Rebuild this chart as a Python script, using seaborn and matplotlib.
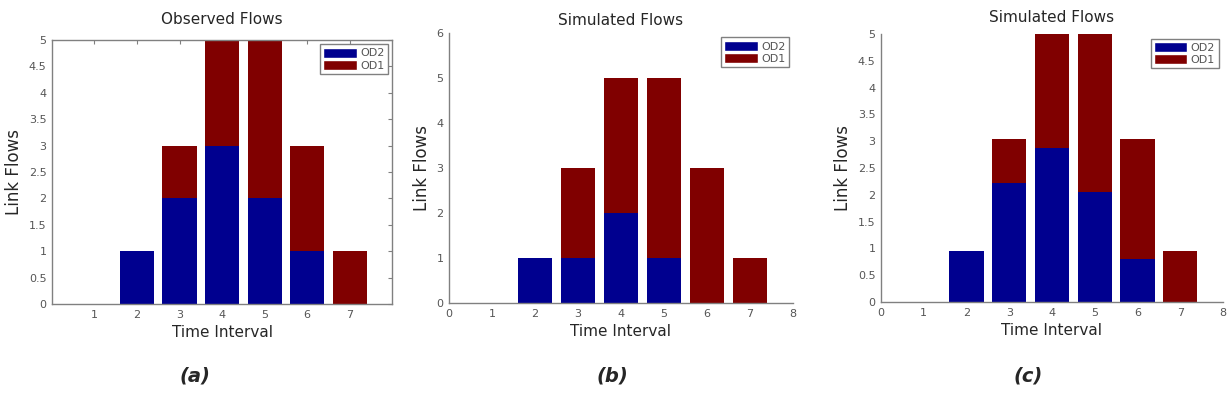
import numpy as np
import pandas as pd
import matplotlib
matplotlib.use('Agg')
import matplotlib.pyplot as plt
from matplotlib.patches import Patch
import seaborn as sns

# --- data ---
intervals = [1, 2, 3, 4, 5, 6, 7]

obs_od2 = [0, 1, 2, 3, 2, 1, 0]
obs_od1 = [0, 0, 1, 2, 3, 2, 1]

sim_od2 = [0, 1, 1, 2, 1, 0, 0]
sim_od1 = [0, 0, 2, 3, 4, 3, 1]

sim2_od2 = [0, 0.95, 2.22, 2.88, 2.05, 0.80, 0]
sim2_od1 = [0, 0, 0.83, 2.12, 2.95, 2.25, 0.95]

titles = ["Observed Flows", "Simulated Flows", "Simulated Flows"]
captions = ["(a)", "(b)", "(c)"]

BLUE = "#00008f"
RED = "#800000"
GREY = "#808080"

sns.set_style("white")
plt.rcParams['font.family'] = ['DejaVu Sans']


def stacked(ax, od2, od1):
    """堆叠柱状图：先画总量(OD1 颜色)，再画 OD2 在底部"""
    df = pd.DataFrame({"t": intervals, "od2": od2,
                       "tot": np.array(od2) + np.array(od1)})
    sns.barplot(data=df, x="t", y="tot", native_scale=True, color=RED,
                saturation=1, width=0.8, linewidth=0, ax=ax)
    sns.barplot(data=df, x="t", y="od2", native_scale=True, color=BLUE,
                saturation=1, width=0.8, linewidth=0, ax=ax)


def style_axes(ax, box):
    for s in ax.spines.values():
        s.set_color(GREY)
        s.set_linewidth(1.0)
    if not box:
        ax.spines['top'].set_visible(False)
        ax.spines['right'].set_visible(False)
    ax.tick_params(direction='in', length=3, width=0.8, color=GREY,
                   labelsize=8, labelcolor='#555555', pad=4,
                   top=box, right=box)
    ax.set_xlabel("Time Interval", fontsize=11, labelpad=4)
    ax.set_ylabel("Link Flows", fontsize=12, labelpad=4)
    handles = [Patch(facecolor=BLUE, label="OD2"), Patch(facecolor=RED, label="OD1")]
    leg = ax.legend(handles=handles, loc='upper right', fontsize=8, frameon=True,
                    fancybox=False, edgecolor=GREY, framealpha=1,
                    handlelength=3.0, handleheight=1.0, handletextpad=0.3,
                    borderpad=0.3, labelspacing=0.15, borderaxespad=0.4)
    for t in leg.get_texts():
        t.set_color('#555555')


fig = plt.figure(figsize=(12.28, 4.16), dpi=100)
ax_a = fig.add_axes([0.0423, 0.269, 0.277, 0.635])
ax_b = fig.add_axes([0.3656, 0.2716, 0.2802, 0.649])
ax_c = fig.add_axes([0.7174, 0.274, 0.2785, 0.644])

# (a)
stacked(ax_a, obs_od2, obs_od1)
ax_a.set_xlim(0, 8)
ax_a.set_ylim(0, 5)
ax_a.set_xticks(intervals)
ax_a.set_yticks(np.arange(0, 5.01, 0.5))
ax_a.set_yticklabels([f"{v:g}" for v in np.arange(0, 5.01, 0.5)])
style_axes(ax_a, box=True)

# (b)
stacked(ax_b, sim_od2, sim_od1)
ax_b.set_xlim(0, 8)
ax_b.set_ylim(0, 6)
ax_b.set_xticks(range(0, 9))
ax_b.set_yticks(range(0, 7))
style_axes(ax_b, box=False)

# (c)
stacked(ax_c, sim2_od2, sim2_od1)
ax_c.set_xlim(0, 8)
ax_c.set_ylim(0, 5)
ax_c.set_xticks(range(0, 9))
ax_c.set_yticks(np.arange(0, 5.01, 0.5))
ax_c.set_yticklabels([f"{v:g}" for v in np.arange(0, 5.01, 0.5)])
style_axes(ax_c, box=False)

title_pads = [11.5, 5.5, 8.5]
cap_x = [195 / 1228, 612 / 1228, 1028 / 1228]
for ax, title, pad, cap, cx in zip([ax_a, ax_b, ax_c], titles, title_pads, captions, cap_x):
    ax.set_title(title, fontsize=11, pad=pad)
    fig.text(cx, 0.095, cap, fontsize=14, fontweight='bold', fontstyle='italic',
             ha='center', va='center')

fig.savefig("out.png", dpi=100)
